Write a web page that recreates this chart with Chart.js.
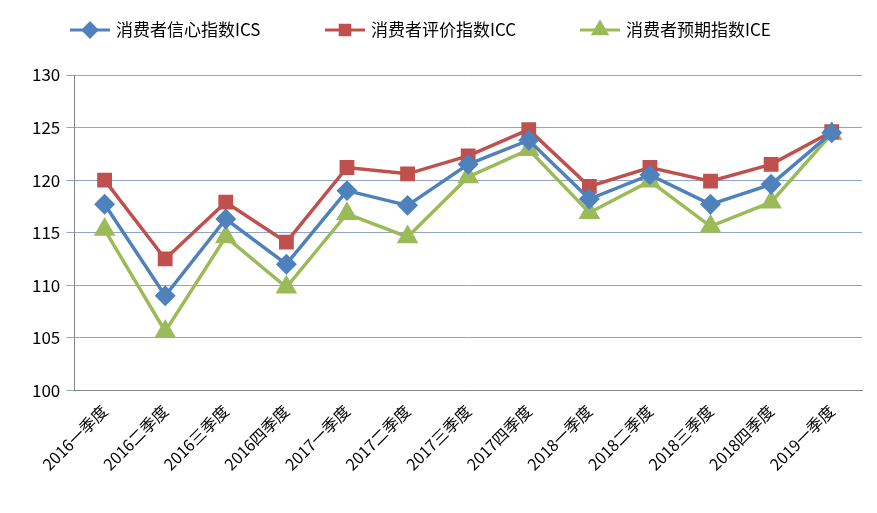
<!DOCTYPE html>
<html>
<head>
<meta charset="utf-8">
<script src="https://cdn.jsdelivr.net/npm/chart.js@4"></script>
<style>
  body { margin: 0; background: #fff; }
  #wrap { width: 877px; height: 513px; }
</style>
</head>
<body>
<div id="wrap"><canvas id="c"></canvas></div>
<script>
const quarters = ['2016一季度', '2016二季度', '2016三季度', '2016四季度', '2017一季度', '2017二季度',
  '2017三季度', '2017四季度', '2018一季度', '2018二季度', '2018三季度', '2018四季度', '2019一季度'];
const icsValues = [117.7, 109.0, 116.3, 112.0, 119.0, 117.6, 121.5, 123.8, 118.2, 120.5, 117.7, 119.6, 124.5];
const iccValues = [120.0, 112.5, 117.9, 114.1, 121.2, 120.6, 122.3, 124.8, 119.4, 121.2, 119.9, 121.5, 124.6];
const iceValues = [115.3, 105.6, 114.6, 109.8, 116.8, 114.6, 120.3, 122.9, 116.9, 119.9, 115.6, 117.9, 124.4];
const yTicks = [100, 105, 110, 115, 120, 125, 130];

const fontFamily = '"Noto Sans CJK SC", "Liberation Sans", sans-serif';

// legend drawn by hand so each entry shows line + marker, like the original
const lineLegend = {
  id: 'lineLegend',
  afterDraw(chart) {
    const ctx = chart.ctx;
    let x = 70;
    const y = 30;
    chart.data.datasets.forEach(ds => {
      ctx.save();
      ctx.strokeStyle = ds.borderColor;
      ctx.lineWidth = 3;
      ctx.beginPath();
      ctx.moveTo(x, y);
      ctx.lineTo(x + 40, y);
      ctx.stroke();
      Chart.helpers.drawPoint(ctx, {
        pointStyle: ds.pointStyle, radius: ds.pointRadius * 0.85, borderWidth: 1
      }, x + 20, y);
      ctx.fillStyle = ds.borderColor;
      ctx.fill();
      ctx.fillStyle = '#000';
      ctx.font = '17px ' + fontFamily;
      ctx.textBaseline = 'middle';
      ctx.fillText(ds.label, x + 46, y);
      ctx.restore();
      x += 255;
    });
  }
};

function series(label, data, color, style, r) {
  return {
    label, data,
    borderColor: color, backgroundColor: color,
    pointBackgroundColor: color, pointBorderColor: color,
    pointStyle: style, pointRadius: r, pointHoverRadius: r,
    borderWidth: 3.5, tension: 0
  };
}

new Chart(document.getElementById('c'), {
  type: 'line',
  data: {
    labels: quarters,
    datasets: [
      series('消费者信心指数ICS', icsValues, '#4F81BD', 'rectRot', 8),
      series('消费者评价指数ICC', iccValues, '#C0504D', 'rect', 8),
      series('消费者预期指数ICE', iceValues, '#9BBB59', 'triangle', 9)
    ]
  },
  options: {
    responsive: true,
    maintainAspectRatio: false,
    animation: false,
    layout: { padding: { top: 75, right: 15, left: 26, bottom: 36 } },
    plugins: { legend: { display: false }, tooltip: { enabled: false } },
    scales: {
      x: {
        offset: true,
        grid: { display: false },
        border: { color: '#868686' },
        ticks: {
          color: '#000', maxRotation: 45, minRotation: 45, autoSkip: false,
          font: { size: 16, family: fontFamily }
        }
      },
      y: {
        min: 100, max: 130,
        afterBuildTicks: axis => { axis.ticks = yTicks.map(v => ({ value: v })); },
        grid: { color: '#8EA6C6', lineWidth: 1, drawTicks: true },
        border: { color: '#868686' },
        ticks: { color: '#000', font: { size: 17, family: fontFamily }, padding: 6 }
      }
    }
  },
  plugins: [lineLegend]
});
</script>
</body>
</html>
